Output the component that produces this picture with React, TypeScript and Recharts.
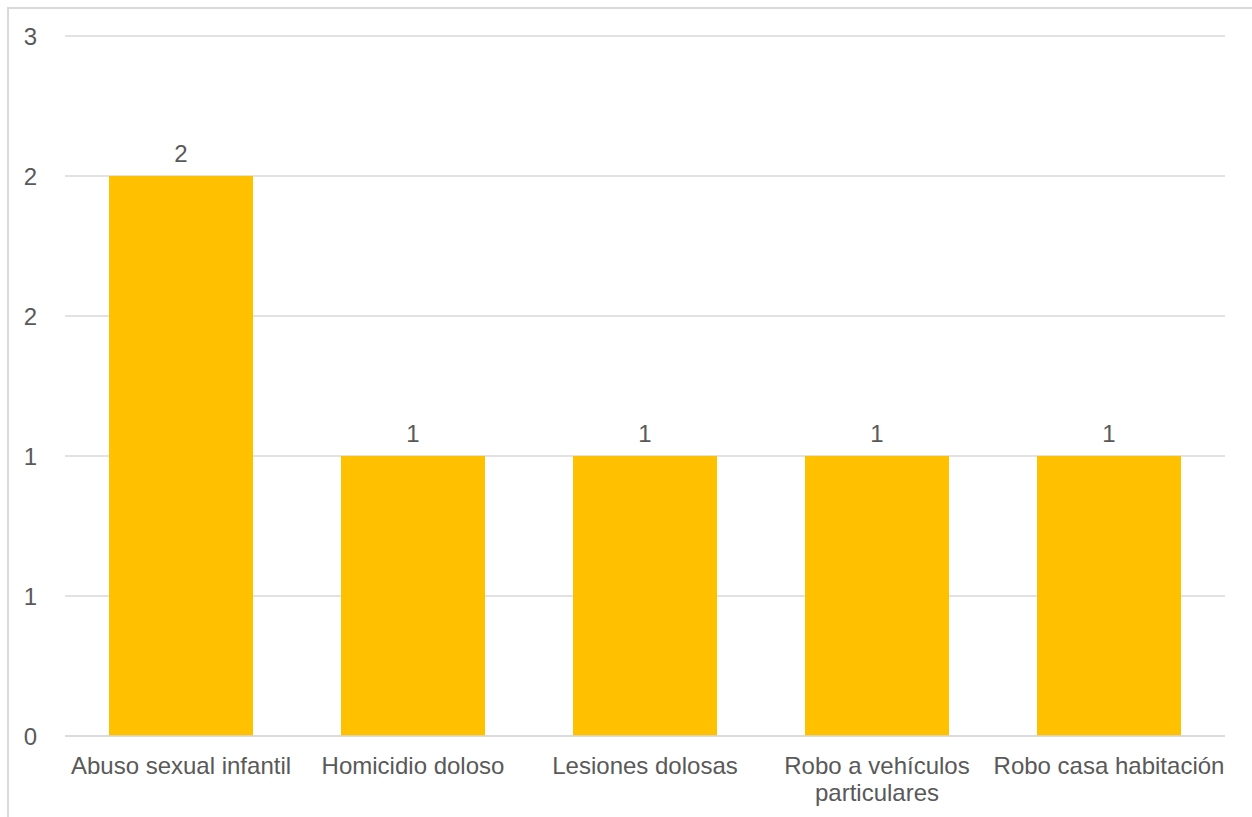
import { BarChart, Bar, XAxis, YAxis, CartesianGrid, LabelList } from "recharts"

const categories = [
    "Abuso sexual infantil",
    "Homicidio doloso",
    "Lesiones dolosas",
    "Robo a vehículos particulares",
    "Robo casa habitación",
]
const casos = [2, 1, 1, 1, 1]
const yTicks = [0, 0.5, 1, 1.5, 2, 2.5]

const data = categories.map((delito, i) => ({ delito, casos: casos[i] }))

const FONT = '"Liberation Sans", Arial, sans-serif'
const TEXT = '#595959'
const GRID = '#d9d9d9'

let ctx: CanvasRenderingContext2D | null = null
const wrap = (label: string, maxWidth: number) => {
    if (!ctx) {
        ctx = document.createElement('canvas').getContext('2d')
        if (ctx) ctx.font = `24px ${FONT}`
    }
    const words = label.split(' ')
    const lines: string[] = []
    let current = ''
    for (const w of words) {
        const next = current ? `${current} ${w}` : w
        if (current && ctx && ctx.measureText(next).width > maxWidth) {
            lines.push(current)
            current = w
        } else {
            current = next
        }
    }
    if (current) lines.push(current)
    return lines
}

const CategoryTick = (props: any) => {
    const { x, y, payload } = props
    const lines = wrap(String(payload.value), 234)
    return (
        <text x={x} y={y} textAnchor="middle" fontSize={24} fontFamily={FONT} fill={TEXT}>
            {lines.map((line, i) => (
                <tspan key={i} x={x} dy={i === 0 ? 17 : 27}>{line}</tspan>
            ))}
        </text>
    )
}

const App = () => {
    return (
        <div style={{ position: 'absolute', left: 0, top: 0, width: 1252, height: 817, background: '#fff', overflow: 'hidden' }}>
            <div style={{ position: 'absolute', left: 7, top: 7, width: 1260, height: 830, border: `2px solid ${GRID}` }} />
            <BarChart
                width={1252}
                height={817}
                data={data}
                margin={{ top: 36, right: 27, left: 0, bottom: 0 }}
                style={{ position: 'absolute', left: 0, top: 0 }}
            >
                <CartesianGrid vertical={false} stroke={GRID} strokeWidth={1.5} />
                <XAxis
                    dataKey="delito"
                    height={81}
                    interval={0}
                    tickLine={false}
                    tickSize={0}
                    tickMargin={21}
                    axisLine={{ stroke: GRID, strokeWidth: 1.5 }}
                    tick={<CategoryTick />}
                />
                <YAxis
                    width={65}
                    domain={[0, 2.5]}
                    ticks={yTicks}
                    interval={0}
                    axisLine={false}
                    tickLine={false}
                    tickSize={0}
                    tickMargin={28}
                    tick={{ fontSize: 24, fill: TEXT, fontFamily: FONT }}
                    tickFormatter={(v: number) => String(Math.round(v))}
                />
                <Bar dataKey="casos" fill="#ffc000" barSize={144} isAnimationActive={false}>
                    <LabelList
                        dataKey="casos"
                        position="top"
                        offset={14}
                        fontSize={24}
                        fill={TEXT}
                        fontFamily={FONT}
                    />
                </Bar>
            </BarChart>
        </div>
    )
}

export default App
